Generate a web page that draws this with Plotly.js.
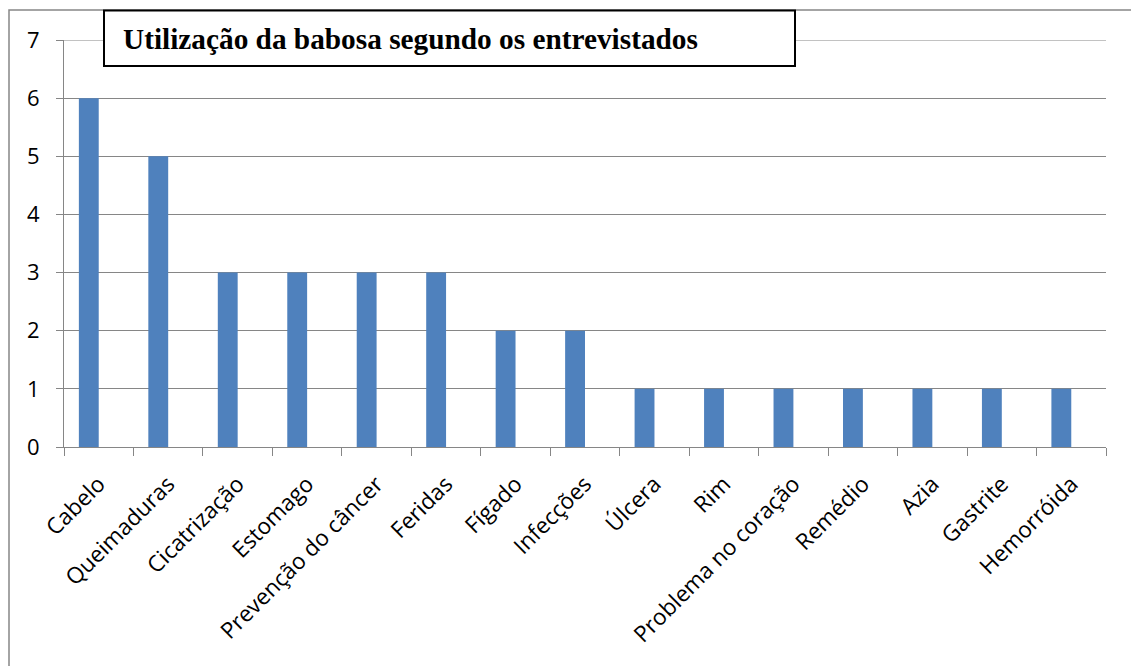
<!DOCTYPE html>
<html>
<head>
<meta charset="utf-8">
<script src="https://cdn.plot.ly/plotly-3.0.1.min.js"></script>
<style>html,body{margin:0;padding:0;background:#fff;}#chart{width:1131px;height:666px;}</style>
</head>
<body>
<div id="chart"></div>
<script>
const categories = ["Cabelo","Queimaduras","Cicatrização","Estomago","Prevenção do câncer","Feridas","Fígado","Infecções","Úlcera","Rim","Problema no coração","Remédio","Azia","Gastrite","Hemorróida"];
const values = [6,5,3,3,3,3,2,2,1,1,1,1,1,1,1];
const yTicks = [0,1,2,3,4,5,6,7];
const titleText = "Utilização da babosa segundo os entrevistados";

const W = 1131, H = 666;
const L = 64, R = 25, T = 40, B = 219;
const pw = W - L - R, ph = H - T - B;
const px = v => (v - L) / pw;
const py = v => (H - B - v) / ph;

const trace = {
  type: 'bar',
  x: categories,
  y: values,
  width: 0.286,
  offset: -0.286,
  marker: {color: '#4F81BD', line: {width: 0}},
  hoverinfo: 'x+y'
};

const layout = {
  width: W, height: H,
  margin: {l: L, r: R, t: T, b: B, pad: 0},
  paper_bgcolor: '#ffffff',
  plot_bgcolor: '#ffffff',
  showlegend: false,
  font: {family: 'Open Sans, sans-serif', color: '#000000', size: 22},
  xaxis: {
    type: 'category',
    tickangle: -45,
    tickson: 'boundaries',
    ticks: 'outside',
    ticklen: 8,
    tickcolor: '#868686',
    showline: true,
    linecolor: '#868686',
    linewidth: 1,
    showgrid: false,
    ticklabelstandoff: 14,
    tickfont: {family: 'Open Sans, sans-serif', size: 22.5, color: '#000'},
    automargin: false
  },
  yaxis: {
    range: [0, 7],
    tickvals: yTicks,
    ticktext: yTicks.map(String),
    ticks: 'outside',
    ticklen: 7,
    tickcolor: '#868686',
    showline: true,
    linecolor: '#868686',
    linewidth: 1,
    showgrid: true,
    gridcolor: '#868686',
    gridwidth: 1,
    zeroline: false,
    ticklabelstandoff: 12,
    tickfont: {family: 'Open Sans, sans-serif', size: 22, color: '#000'},
    automargin: false
  },
  shapes: [
    {type: 'line', xref: 'paper', yref: 'y', layer: 'below',
     x0: 0, x1: 1, y0: yTicks[yTicks.length - 1], y1: yTicks[yTicks.length - 1],
     line: {color: '#868686', width: 1}},
    {type: 'path', xref: 'paper', yref: 'paper', layer: 'below',
     path: `M ${px(9)} ${py(720)} L ${px(9)} ${py(10)} L ${px(1200)} ${py(10)}`,
     line: {color: '#868686', width: 1.5}},
    {type: 'rect', xref: 'paper', yref: 'paper', layer: 'above',
     x0: px(104), x1: px(795), y0: py(10.5), y1: py(66),
     line: {color: '#000000', width: 2}, fillcolor: '#ffffff'}
  ],
  annotations: [
    {xref: 'paper', yref: 'paper', x: px(121), y: py(38.5), xanchor: 'left', yanchor: 'middle',
     text: '<b>' + titleText + '</b>', showarrow: false,
     font: {family: 'Liberation Serif, Times New Roman, serif', size: 29.3, color: '#000'}}
  ]
};

Plotly.newPlot('chart', [trace], layout, {displayModeBar: false, staticPlot: true});
</script>
</body>
</html>
